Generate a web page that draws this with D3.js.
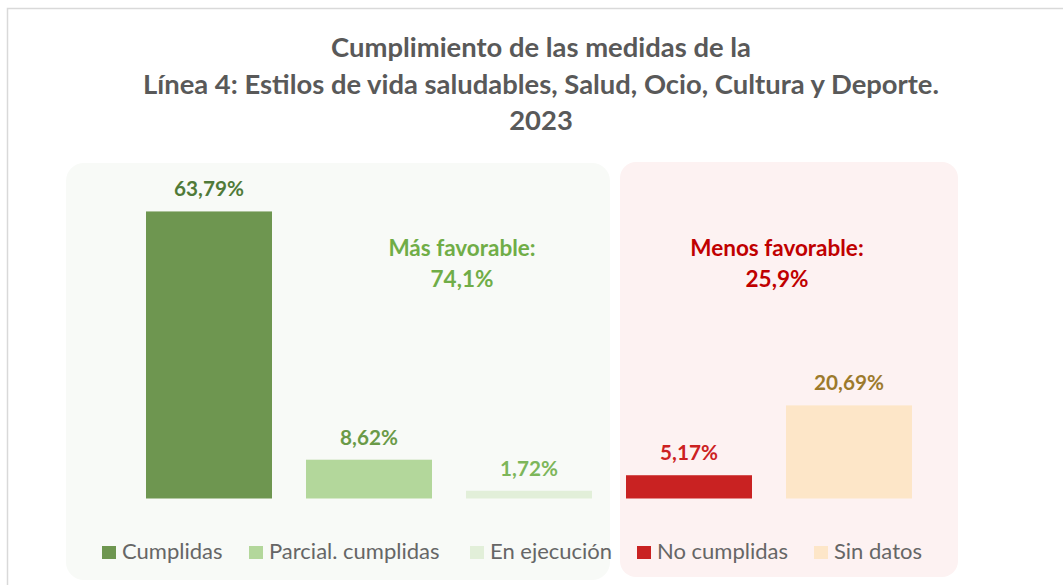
<!DOCTYPE html>
<html>
<head>
<meta charset="utf-8">
<script src="https://cdn.jsdelivr.net/npm/d3@7"></script>
<style>
  body { margin: 0; background: #fff; }
  svg { display: block; }
</style>
</head>
<body>
<script>
// datos
var categorias = ["Cumplidas", "Parcial. cumplidas", "En ejecución", "No cumplidas", "Sin datos"];
var valores = [63.79, 8.62, 1.72, 5.17, 20.69];
var etiquetas = ["63,79%", "8,62%", "1,72%", "5,17%", "20,69%"];
var coloresBarra = ["#6e9650", "#b3d79b", "#e2efd9", "#c92222", "#fde6c8"];
var coloresTexto = ["#507a38", "#6a9a48", "#7db65a", "#cc2222", "#9c7a2c"];
var tituloLineas = ["Cumplimiento de las medidas de la",
  "Línea 4: Estilos de vida saludables, Salud, Ocio, Cultura y Deporte.",
  "2023"];
var resumen = [
  { txt: ["Más favorable:", "74,1%"], color: "#70ad47" },
  { txt: ["Menos favorable:", "25,9%"], color: "#c00000" }
];

var width = 1063, height = 585;
var fuente = "Lato, 'Open Sans', sans-serif";

var svg = d3.select("body").append("svg")
  .attr("width", width)
  .attr("height", height);

// marco
svg.append("path")
  .attr("d", "M7.5," + height + "V8.5H" + width)
  .attr("fill", "none")
  .attr("stroke", "#d9d9d9")
  .attr("stroke-width", 1.5);

// paneles de fondo
svg.append("rect").attr("x", 66).attr("y", 163).attr("width", 544).attr("height", 417)
  .attr("rx", 18).attr("fill", "#f8faf7");
svg.append("rect").attr("x", 620).attr("y", 162).attr("width", 338).attr("height", 415)
  .attr("rx", 16).attr("fill", "#fdf2f2");

// titulo
svg.selectAll(".titulo").data(tituloLineas).enter()
  .append("text")
  .attr("class", "titulo")
  .attr("x", 541)
  .attr("y", function (d, i) { return 57 + i * 36.5; })
  .attr("text-anchor", "middle")
  .attr("font-family", fuente)
  .attr("font-weight", "bold")
  .attr("font-size", 27.4)
  .attr("fill", "#595959")
  .text(function (d) { return d; });

// escalas
var base = 498.5;
var xScale = d3.scaleBand()
  .domain(categorias)
  .range([112, 946])
  .padding(0.2125);

var yScale = d3.scaleLinear()
  .domain([0, 100])
  .range([base, base - 450]);

// barras
svg.selectAll(".barra").data(valores).enter()
  .append("rect")
  .attr("class", "barra")
  .attr("x", function (d, i) { return xScale(categorias[i]); })
  .attr("width", xScale.bandwidth())
  .attr("y", function (d) { return yScale(d); })
  .attr("height", function (d) { return base - yScale(d); })
  .attr("fill", function (d, i) { return coloresBarra[i]; });

// etiquetas de valor
svg.selectAll(".valor").data(valores).enter()
  .append("text")
  .attr("class", "valor")
  .attr("x", function (d, i) { return xScale(categorias[i]) + xScale.bandwidth() / 2; })
  .attr("y", function (d) { return yScale(d) - 15; })
  .attr("text-anchor", "middle")
  .attr("font-family", fuente)
  .attr("font-weight", "bold")
  .attr("font-size", 20.7)
  .attr("fill", function (d, i) { return coloresTexto[i]; })
  .text(function (d, i) { return etiquetas[i]; });

// resumen favorable / menos favorable
var resumenX = [462, 777];
resumen.forEach(function (r, k) {
  svg.selectAll(".res" + k).data(r.txt).enter()
    .append("text")
    .attr("x", resumenX[k])
    .attr("y", function (d, i) { return 256 + i * 31; })
    .attr("text-anchor", "middle")
    .attr("font-family", fuente)
    .attr("font-weight", "bold")
    .attr("font-size", 22.5)
    .attr("fill", r.color)
    .text(function (d) { return d; });
});

// leyenda
var leyendaX = [102, 249, 470, 637, 814];
var ley = svg.selectAll(".ley").data(categorias).enter()
  .append("g")
  .attr("transform", function (d, i) { return "translate(" + leyendaX[i] + ",546)"; });
ley.append("rect")
  .attr("width", 14).attr("height", 13)
  .attr("fill", function (d, i) { return coloresBarra[i]; });
ley.append("text")
  .attr("x", 20)
  .attr("y", 13)
  .attr("font-family", fuente)
  .attr("font-size", 22)
  .attr("fill", "#666")
  .text(function (d) { return d; });
</script>
</body>
</html>
